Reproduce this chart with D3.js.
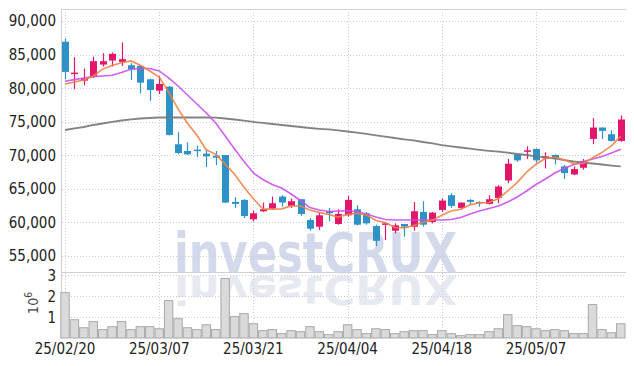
<!DOCTYPE html>
<html>
<head>
<meta charset="utf-8">
<script src="https://cdn.jsdelivr.net/npm/d3@7"></script>
<style>
  body { margin: 0; background: #fff; }
  svg { display: block; }
</style>
</head>
<body>
<svg width="634" height="366"></svg>
<script>
// trading days shown
var dates = ["25/02/20","25/02/21","25/02/24","25/02/25","25/02/26","25/02/27","25/02/28","25/03/04","25/03/05","25/03/06",
  "25/03/07","25/03/10","25/03/11","25/03/12","25/03/13","25/03/14","25/03/17","25/03/18","25/03/19","25/03/20",
  "25/03/21","25/03/24","25/03/25","25/03/26","25/03/27","25/03/28","25/03/31","25/04/01","25/04/02","25/04/03",
  "25/04/04","25/04/07","25/04/08","25/04/09","25/04/10","25/04/11","25/04/14","25/04/15","25/04/16","25/04/17",
  "25/04/18","25/04/21","25/04/22","25/04/23","25/04/24","25/04/25","25/04/28","25/04/29","25/04/30","25/05/02",
  "25/05/07","25/05/08","25/05/09","25/05/12","25/05/13","25/05/14","25/05/15","25/05/16","25/05/19","25/05/20"];

var openP  = [86900,82200,81100,81700,83500,84100,83900,83400,83300,81300,79600,80200,71600,70600,70800,70200,69900,70000,63000,63300,
              60400,61600,62000,63800,62400,63400,60300,59300,61600,59700,61000,61900,61300,59400,59600,58700,59700,59300,61500,60000,
              61800,64000,62100,63300,63000,62700,63600,66200,70100,70500,70900,69500,70000,68300,67100,68100,72400,74100,73100,72100];
var highP  = [87400,84600,82900,84700,85200,85300,86800,83700,83400,81400,81800,80300,73400,71900,71400,70800,70600,70000,63700,63400,
              61700,62900,63800,64000,63500,63400,60600,61500,62100,61900,63900,62500,61500,59600,59800,59800,59700,63000,63100,61500,
              63500,64300,62900,63400,63100,64000,65500,69400,70200,71300,71000,70400,70100,68500,68300,69400,75500,74100,73700,75900];
var lowP   = [81300,79800,80400,81500,83200,83200,83300,81200,79200,78100,79100,72900,70100,70000,69700,68200,68500,62800,62100,60600,
              60100,61500,61800,62300,62100,60900,58700,58800,60100,59600,60800,59500,59600,56400,57300,58300,57800,58700,59300,59800,
              61500,62100,61800,62700,62300,62600,62800,65800,69000,69400,68900,68000,68600,66400,67000,67800,71600,72400,72000,72000];
var closeP = [82400,82300,81400,84000,84000,85100,84300,82800,80800,79700,80600,73000,70300,70100,70700,69800,69600,62900,62700,60900,
              61300,61900,62800,62900,63100,61200,59000,61000,61300,61200,63300,59600,59800,57200,59800,59500,59300,61600,59600,61400,
              63200,62400,62900,63000,62800,63400,65300,68700,69200,70700,69200,69800,69400,67300,67900,69100,74100,73600,72100,75300];

// volume, millions of shares
var volume = [2.16,0.87,0.49,0.78,0.40,0.54,0.78,0.40,0.54,0.54,0.44,1.78,0.92,0.49,0.40,
              0.63,0.40,2.83,1.02,1.16,0.68,0.35,0.40,0.21,0.35,0.30,0.54,0.30,0.16,0.30,0.63,0.40,0.21,0.44,0.40,0.21,0.30,0.35,
              0.35,0.16,0.35,0.21,0.11,0.16,0.16,0.30,0.44,1.11,0.59,0.54,0.44,0.35,0.40,0.35,0.21,0.21,1.59,0.40,0.25,0.68];

// moving averages as drawn
var ma5  = [80600,80900,81200,81800,82820,83360,83760,84040,83400,82540,81640,79380,76880,74740,72940,70780,70100,68620,67140,65180,
            63480,61940,61920,61960,62400,62380,61800,61440,61120,60740,61160,61280,61040,60220,59940,59180,59120,59480,59960,60280,
            61020,61640,61900,62580,62860,62900,63480,64640,65880,67460,68620,69520,69660,69280,68720,68700,69560,70400,71360,72840];
var ma20 = [81000,81250,81500,81700,81800,81900,82300,82800,82900,82900,82550,81500,80300,78960,77610,76270,74780,72840,70900,69030,
            67310,66340,65600,65080,64180,63210,62160,61790,61570,61640,61690,61570,61190,60750,60370,60300,60300,60300,60300,60300,
            60300,60370,60670,61190,61640,62020,62390,62990,63730,64630,65600,66420,67310,67990,68580,69030,69400,69780,70300,70850];
var ma60 = [73730,73960,74180,74480,74700,74930,75150,75330,75450,75520,75600,75600,75600,75600,75600,75600,75570,75450,75300,75120,
            74930,74780,74630,74480,74330,74180,74030,73910,73810,73690,73510,73330,73140,72940,72730,72540,72340,72170,71940,71720,
            71490,71300,71120,70940,70780,70630,70490,70340,70150,70000,69810,69630,69480,69250,69030,68850,68730,68580,68430,68310];

var priceTicks = [55000,60000,65000,70000,75000,80000,85000,90000];
var volTicks = [1,2,3];
var dateTicks = ["25/02/20","25/03/07","25/03/21","25/04/04","25/04/18","25/05/07"];

draw_chart = function()
{
  var svg = d3.select("svg");
  var left = 62, right = 626, topY = 9, split = 272, bottom = 338;
  var upColor = "#e3176a", downColor = "#2e92c6";
  var font = "'Liberation Sans Narrow', 'DejaVu Sans Condensed', sans-serif";

  var x = d3.scaleBand().domain(dates).range([60.3, 625.5]).padding(0);
  var cx = function(d) { return x(d) + x.bandwidth() / 2; };
  var y = d3.scaleLinear().domain([52538, 91791]).range([split, topY]);
  var yv = d3.scaleLinear().domain([0, 3.143]).range([bottom, split]);

  // watermark and its reflection
  var wm = svg.append("g");
  wm.append("text")
    .attr("x", 174).attr("y", 272)
    .attr("textLength", 283).attr("lengthAdjust", "spacingAndGlyphs")
    .style("font-family", "'DejaVu Sans', sans-serif").style("font-weight", "bold")
    .style("font-size", "55px").style("fill", "#d3d9ea")
    .text("investCRUX");
  wm.append("text")
    .attr("transform", "translate(0,276) scale(1,-0.72)")
    .attr("x", 174).attr("y", 0)
    .attr("textLength", 283).attr("lengthAdjust", "spacingAndGlyphs")
    .style("font-family", "'DejaVu Sans', sans-serif").style("font-weight", "bold")
    .style("font-size", "55px").style("fill", "#e7e9f1")
    .text("investCRUX");

  // grid
  var grid = svg.append("g")
    .style("stroke", "#c9cbdc").style("stroke-width", 1).style("stroke-dasharray", "1,2");
  grid.selectAll(".hp").data(priceTicks).enter().append("line")
    .attr("x1", left).attr("x2", right)
    .attr("y1", function(d) { return Math.round(y(d)) + 0.5; })
    .attr("y2", function(d) { return Math.round(y(d)) + 0.5; });
  grid.selectAll(".hv").data(volTicks).enter().append("line")
    .attr("x1", left).attr("x2", right)
    .attr("y1", function(d) { return Math.round(yv(d)) + 0.5; })
    .attr("y2", function(d) { return Math.round(yv(d)) + 0.5; });
  grid.selectAll(".vx").data(dateTicks).enter().append("line")
    .attr("y1", topY).attr("y2", bottom)
    .attr("x1", function(d) { return Math.round(cx(d)) + 0.5; })
    .attr("x2", function(d) { return Math.round(cx(d)) + 0.5; });

  // frame
  svg.append("line").attr("x1", left).attr("x2", right).attr("y1", topY + 0.5).attr("y2", topY + 0.5)
    .style("stroke", "#d4d4d8");
  svg.append("line").attr("x1", left).attr("x2", right).attr("y1", split + 0.5).attr("y2", split + 0.5)
    .style("stroke", "#cfcfd4");
  svg.append("line").attr("x1", left - 0.5).attr("x2", left - 0.5).attr("y1", topY).attr("y2", bottom)
    .style("stroke", "#cfcfd4");

  // volume bars
  svg.append("g").selectAll("rect").data(dates).enter().append("rect")
    .attr("x", function(d) { return x(d) + 0.5; })
    .attr("width", x.bandwidth() - 1)
    .attr("y", function(d, i) { return yv(volume[i]); })
    .attr("height", function(d, i) { return bottom - yv(volume[i]); })
    .style("fill", "#dadada").style("stroke", "#a9a9a9").style("stroke-width", 1);

  // candles
  var candles = svg.append("g");
  candles.selectAll("line").data(dates).enter().append("line")
    .attr("x1", function(d) { return Math.round(cx(d)) + 0.5; })
    .attr("x2", function(d) { return Math.round(cx(d)) + 0.5; })
    .attr("y1", function(d, i) { return y(highP[i]); })
    .attr("y2", function(d, i) { return y(lowP[i]); })
    .style("stroke", function(d, i) { return closeP[i] >= openP[i] ? upColor : downColor; })
    .style("stroke-width", 1.2);
  candles.selectAll("rect").data(dates).enter().append("rect")
    .attr("x", function(d) { return Math.round(cx(d)) - 3; })
    .attr("width", 7)
    .attr("y", function(d, i) { return y(Math.max(openP[i], closeP[i])); })
    .attr("height", function(d, i) { return Math.max(1.5, Math.abs(y(openP[i]) - y(closeP[i]))); })
    .style("fill", function(d, i) { return closeP[i] >= openP[i] ? upColor : downColor; });

  // moving average lines
  var maLine = function(vals) {
    return d3.line()
      .x(function(d) { return cx(d); })
      .y(function(d, i) { return y(vals[i]); })(dates);
  };
  svg.append("path").attr("d", maLine(ma60))
    .style("fill", "none").style("stroke", "#767676").style("stroke-width", 1.8).style("opacity", 0.9);
  svg.append("path").attr("d", maLine(ma20))
    .style("fill", "none").style("stroke", "#c94ff0").style("stroke-width", 1.6).style("opacity", 0.9);
  svg.append("path").attr("d", maLine(ma5))
    .style("fill", "none").style("stroke", "#ef8146").style("stroke-width", 1.6).style("opacity", 0.9);

  // price axis labels
  svg.append("g").selectAll("text").data(priceTicks).enter().append("text")
    .attr("x", 56).attr("y", function(d) { return y(d) + 5.5; })
    .attr("text-anchor", "end")
    .style("font-family", font).style("font-size", "15px").style("fill", "#222")
    .text(function(d) { return d3.format(",")(d); });

  // volume axis labels
  svg.append("g").selectAll("text").data(volTicks).enter().append("text")
    .attr("x", 56).attr("y", function(d) { return yv(d) + 5.5; })
    .attr("text-anchor", "end")
    .style("font-family", font).style("font-size", "15px").style("fill", "#222")
    .text(function(d) { return d; });

  var unit = svg.append("text")
    .attr("transform", "translate(38,303) rotate(-90)")
    .attr("text-anchor", "middle")
    .style("font-family", font).style("font-size", "14px").style("fill", "#444");
  unit.append("tspan").text("10");
  unit.append("tspan").attr("dy", -6).style("font-size", "10px").text("6");

  // date labels
  svg.append("g").selectAll("text").data(dateTicks).enter().append("text")
    .attr("x", function(d) { return cx(d); }).attr("y", 354)
    .attr("text-anchor", "middle")
    .style("font-family", font).style("font-size", "15px").style("fill", "#222")
    .text(function(d) { return d; });
}

draw_chart();
</script>
</body>
</html>
